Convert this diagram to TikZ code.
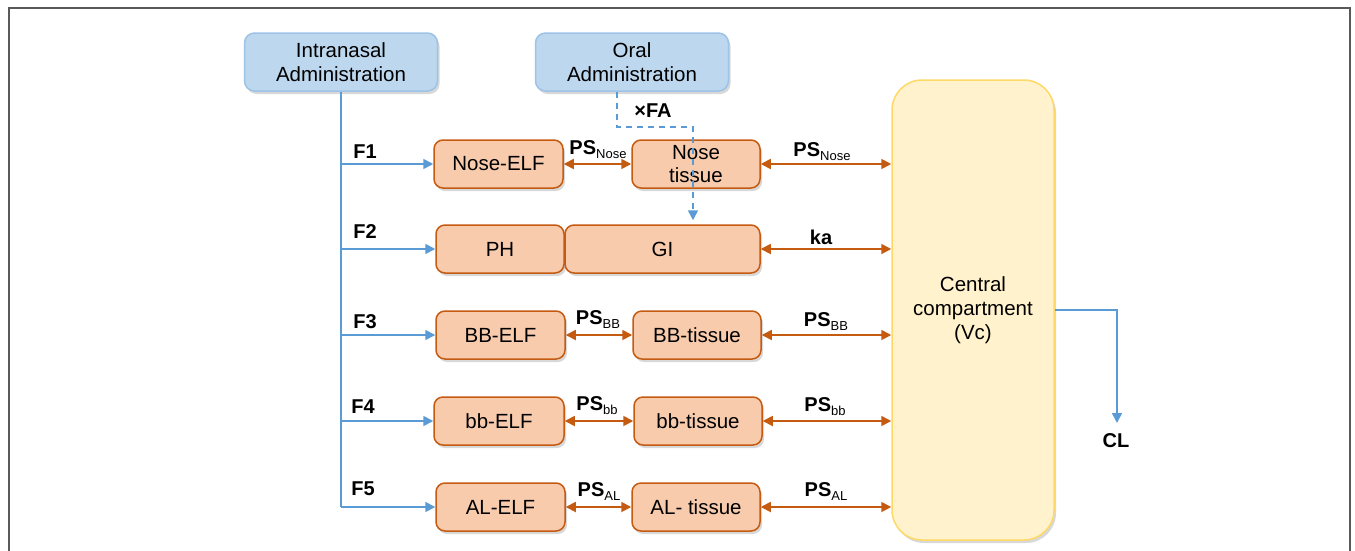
\documentclass[tikz,border=0pt]{standalone}
\usepackage{fontspec}
\setmainfont{Liberation Sans}
\usetikzlibrary{arrows.meta,shadows}
\definecolor{bfill}{HTML}{BDD7EE}
\definecolor{bdraw}{HTML}{9DC3E6}
\definecolor{ofill}{HTML}{F8CBAD}
\definecolor{odraw}{HTML}{C55A11}
\definecolor{cfill}{HTML}{FFF2CC}
\definecolor{cdraw}{HTML}{FFD966}
\definecolor{bline}{HTML}{5B9BD5}
\newcommand{\subl}[1]{\raisebox{-4pt}{\fontsize{13}{13}\selectfont\mdseries #1}}
\tikzset{
  shad/.style={drop shadow={opacity=0.3,shadow xshift=2pt,shadow yshift=-3pt}},
  adminbox/.style={draw=bdraw,fill=bfill,line width=1.5pt,rounded corners=10pt,minimum width=193pt,minimum height=58pt,align=center,font=\fontsize{20.5}{24}\selectfont,shad},
  cbox/.style={draw=odraw,fill=ofill,line width=1.5pt,rounded corners=9pt,minimum width=129pt,minimum height=48pt,align=center,font=\fontsize{20.5}{23}\selectfont,shad,inner sep=1pt},
  centbox/.style={draw=cdraw,fill=cfill,line width=1.5pt,rounded corners=30pt,minimum width=162pt,minimum height=460pt,align=center,font=\fontsize{20.5}{24}\selectfont,shad},
  bluearr/.style={draw=bline,line width=1.6pt,-{Triangle[width=10pt,length=10pt]}},
  bluedash/.style={draw=bline,line width=1.6pt,dashed,dash pattern=on 6pt off 5pt,-{Triangle[width=10pt,length=10pt]}},
  bluetrunk/.style={draw=bline,line width=1.6pt},
  orarr/.style={draw=odraw,line width=1.8pt,{Triangle[width=10pt,length=10pt]}-{Triangle[width=10pt,length=10pt]}},
  lab/.style={font=\fontsize{20}{22}\selectfont\bfseries,inner sep=0pt},
}
\begin{document}
\begin{tikzpicture}[x=1pt,y=-1pt]
\useasboundingbox (0,0) rectangle (1355,550);
\fill[white] (0,0) rectangle (1355,550);
\draw[line width=1.5pt,draw=black!65] (9,570) -- (9,8) -- (1350,8) -- (1350,570);

\node[adminbox] (ina) at (341,62) {Intranasal\\Administration};
\node[adminbox] (oral) at (632,62) {Oral\\Administration};

\node[cbox] (nelf) at (498.5,164) {Nose-ELF};
\node[cbox,minimum width=128pt] (ntis) at (696,164) {Nose\\tissue};
\node[cbox,minimum width=128pt] (ph) at (500,249) {PH};
\node[cbox,minimum width=195pt] (gi) at (662.5,249) {GI};
\node[cbox] (bbelf) at (500.5,335) {BB-ELF};
\node[cbox,minimum width=128pt] (bbtis) at (697,335) {BB-tissue};
\node[cbox,minimum width=130pt] (selfb) at (499,421) {bb-ELF};
\node[cbox,minimum width=128pt] (stisb) at (698,421) {bb-tissue};
\node[cbox] (alelf) at (500.5,507) {AL-ELF};
\node[cbox,minimum width=128pt] (altis) at (696,507) {AL- tissue};

\node[centbox] (cent) at (973,310) {Central\\compartment\\(Vc)};

% trunk and branches
\draw[bluetrunk] (ina.south) -- (ina.south |- alelf.west);
\draw[bluearr] (ina.south |- nelf.west) -- (nelf.west);
\draw[bluearr] (ina.south |- ph.west) -- (ph.west);
\draw[bluearr] (ina.south |- bbelf.west) -- (bbelf.west);
\draw[bluearr] (ina.south |- selfb.west) -- (selfb.west);
\draw[bluearr] (ina.south |- alelf.west) -- (alelf.west);

\node[lab] (f1) at (365,152) {F1};
\node[lab] (f2) at (365,232) {F2};
\node[lab] (f3) at (365,322) {F3};
\node[lab] (f4) at (363,407) {F4};
\node[lab] (f5) at (363,489) {F5};

% exchange arrows
\draw[orarr] (nelf.east) -- (ntis.west);
\draw[orarr] (bbelf.east) -- (bbtis.west);
\draw[orarr] (selfb.east) -- (stisb.west);
\draw[orarr] (alelf.east) -- (altis.west);

\draw[orarr] (ntis.east) -- (ntis.east -| cent.west);
\draw[orarr] (gi.east) -- (gi.east -| cent.west);
\draw[orarr] (bbtis.east) -- (bbtis.east -| cent.west);
\draw[orarr] (stisb.east) -- (stisb.east -| cent.west);
\draw[orarr] (altis.east) -- (altis.east -| cent.west);

\node[lab] (l1) at (598,150) {PS\subl{Nose}};
\node[lab] (l2) at (598,320) {PS\subl{BB}};
\node[lab] (l3) at (597,406) {PS\subl{bb}};
\node[lab] (l4) at (599,492) {PS\subl{AL}};
\node[lab] (r1) at (822,152) {PS\subl{Nose}};
\node[lab] (r2) at (821,237) {ka};
\node[lab] (r3) at (826,322) {PS\subl{BB}};
\node[lab] (r4) at (825,407) {PS\subl{bb}};
\node[lab] (r5) at (826,492) {PS\subl{AL}};

% oral route
\coordinate (d1) at (693,127);
\draw[bluedash] ([xshift=-15pt]oral.south) |- (d1) -- ([yshift=4pt]d1 |- gi.north);
\node[lab] (fa) at (653,111) {×FA};

% clearance
\coordinate (clend) at (1117,423);
\node[lab] (cl) at (1116,441) {CL};
\draw[bluearr] (cent.east) -| (clend);
\end{tikzpicture}
\end{document}
